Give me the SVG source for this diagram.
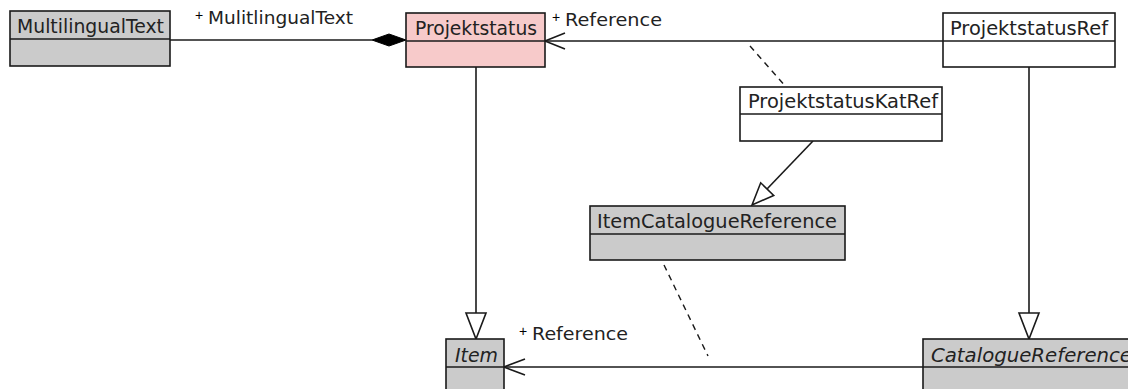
<svg xmlns="http://www.w3.org/2000/svg" width="1128" height="389" viewBox="0 0 1128 389">
<style>
.box{stroke:#1a1a1a;stroke-width:1.6}
.gray{fill:#cbcbcb}
.white{fill:#ffffff}
.pink{fill:#f7caca}
.t{font-family:"DejaVu Sans","Liberation Sans",sans-serif;font-size:19px;fill:#222}
.it{font-style:italic}
.lbl{font-family:"DejaVu Sans","Liberation Sans",sans-serif;font-size:17px;fill:#222}
.plus{font-family:"Liberation Sans","DejaVu Sans",sans-serif;font-size:14px;fill:#000}
.ln{stroke:#1a1a1a;stroke-width:1.6;fill:none}
.dash{stroke:#1a1a1a;stroke-width:1.4;fill:none;stroke-dasharray:6 5}
.tri{stroke:#1a1a1a;stroke-width:1.6;fill:#ffffff}
</style>
<rect width="1128" height="389" fill="#ffffff"/>
<g id="connectors">
  <line class="ln" x1="170" y1="40" x2="372" y2="40"/>
  <polygon points="406,40 389,34 372,40 389,46" fill="#000" stroke="#000" stroke-width="1"/>
  <line class="ln" x1="943" y1="41" x2="545" y2="41"/>
  <polyline class="ln" points="565,33 545,41 565,49"/>
  <line class="dash" x1="750" y1="46" x2="786" y2="87"/>
  <line class="ln" x1="813" y1="141" x2="767" y2="189"/>
  <polygon class="tri" points="752,205 760.7,182.8 773.7,195.4"/>
  <line class="ln" x1="476" y1="67" x2="476" y2="313"/>
  <polygon class="tri" points="466,313 486,313 476,339"/>
  <line class="ln" x1="1029" y1="67" x2="1029" y2="313"/>
  <polygon class="tri" points="1019,313 1039,313 1029,339"/>
  <line class="ln" x1="923" y1="367" x2="504" y2="367"/>
  <polyline class="ln" points="525,359 504,367 525,375"/>
  <line class="dash" x1="664" y1="265" x2="708" y2="356"/>
  <text class="plus" x="195" y="20">+</text>
  <text class="lbl" x="208" y="24" textLength="145" lengthAdjust="spacingAndGlyphs">MulitlingualText</text>
  <text class="plus" x="552" y="22">+</text>
  <text class="lbl" x="565" y="26" textLength="97" lengthAdjust="spacingAndGlyphs">Reference</text>
  <text class="plus" x="519" y="336">+</text>
  <text class="lbl" x="532" y="340" textLength="96" lengthAdjust="spacingAndGlyphs">Reference</text>
</g>
<g id="MultilingualText">
  <rect class="box gray" x="10" y="11" width="160" height="55"/>
  <line class="ln" x1="10" y1="39" x2="170" y2="39"/>
  <text class="t" x="17" y="33" textLength="147" lengthAdjust="spacingAndGlyphs">MultilingualText</text>
</g>
<g id="Projektstatus">
  <rect class="box pink" x="406" y="13" width="139" height="54"/>
  <line class="ln" x1="406" y1="41" x2="545" y2="41"/>
  <text class="t" x="415" y="35" textLength="122" lengthAdjust="spacingAndGlyphs">Projektstatus</text>
</g>
<g id="ProjektstatusRef">
  <rect class="box white" x="943" y="13" width="172" height="54"/>
  <line class="ln" x1="943" y1="41" x2="1115" y2="41"/>
  <text class="t" x="950" y="35" textLength="158" lengthAdjust="spacingAndGlyphs">ProjektstatusRef</text>
</g>
<g id="ProjektstatusKatRef">
  <rect class="box white" x="740" y="87" width="202" height="54"/>
  <line class="ln" x1="740" y1="114" x2="942" y2="114"/>
  <text class="t" x="748" y="108" textLength="190" lengthAdjust="spacingAndGlyphs">ProjektstatusKatRef</text>
</g>
<g id="ItemCatalogueReference">
  <rect class="box gray" x="590" y="206" width="255" height="54"/>
  <line class="ln" x1="590" y1="234" x2="845" y2="234"/>
  <text class="t" x="597" y="228" textLength="240" lengthAdjust="spacingAndGlyphs">ItemCatalogueReference</text>
</g>
<g id="Item">
  <rect class="box gray" x="446" y="339" width="58" height="60"/>
  <line class="ln" x1="446" y1="367" x2="504" y2="367"/>
  <text class="t it" x="455" y="362" textLength="43" lengthAdjust="spacingAndGlyphs">Item</text>
</g>
<g id="CatalogueReference">
  <rect class="box gray" x="923" y="339" width="230" height="60"/>
  <line class="ln" x1="923" y1="367" x2="1153" y2="367"/>
  <text class="t it" x="931" y="362" textLength="201" lengthAdjust="spacingAndGlyphs">CatalogueReference</text>
</g>
</svg>
